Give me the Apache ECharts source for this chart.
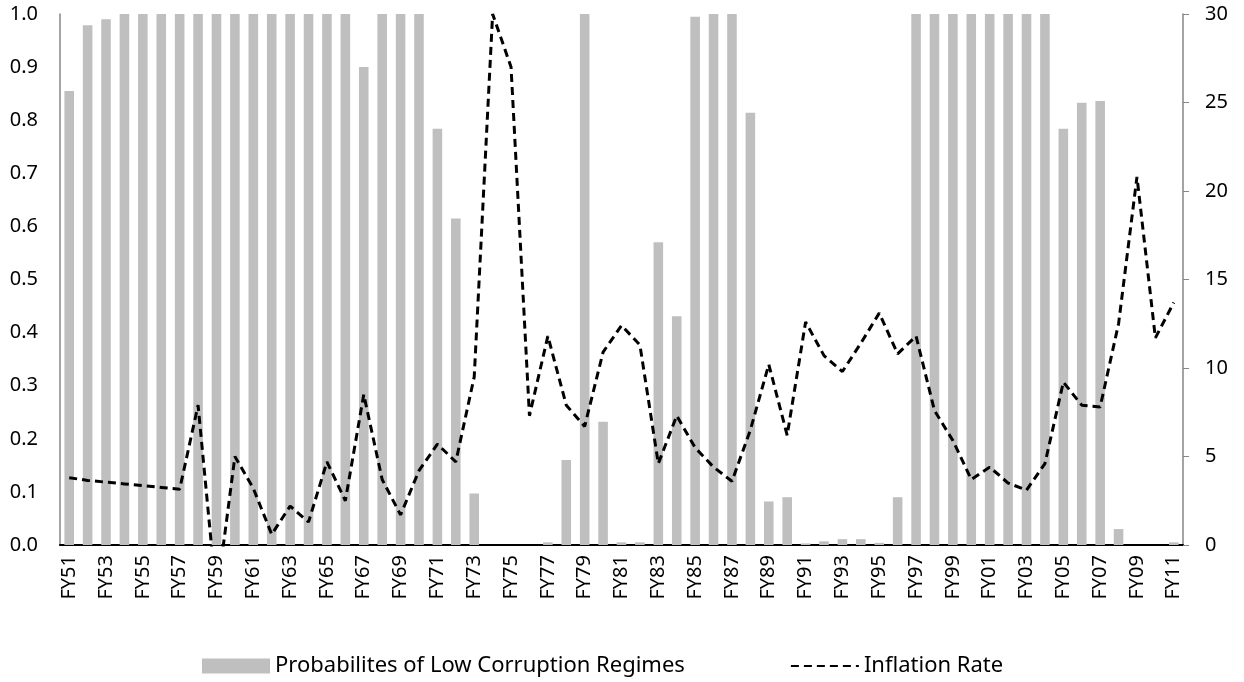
<!DOCTYPE html>
<html>
<head>
<meta charset="utf-8">
<script src="https://cdn.jsdelivr.net/npm/echarts@6/dist/echarts.min.js"></script>
<style>
  html, body { margin: 0; padding: 0; background: #fff; }
  #chart { width: 1244px; height: 682px; }
</style>
</head>
<body>
<div id="chart"></div>
<script>
// fiscal years FY51 .. FY11
var years = ['FY51','FY52','FY53','FY54','FY55','FY56','FY57','FY58','FY59','FY60',
  'FY61','FY62','FY63','FY64','FY65','FY66','FY67','FY68','FY69','FY70',
  'FY71','FY72','FY73','FY74','FY75','FY76','FY77','FY78','FY79','FY80',
  'FY81','FY82','FY83','FY84','FY85','FY86','FY87','FY88','FY89','FY90',
  'FY91','FY92','FY93','FY94','FY95','FY96','FY97','FY98','FY99','FY00',
  'FY01','FY02','FY03','FY04','FY05','FY06','FY07','FY08','FY09','FY10','FY11'];

var lowCorruptionProb = [0.855,0.979,0.990,1,1,1,1,1,1,1,
  1,1,1,1,1,1,0.900,1,1,1,
  0.784,0.615,0.097,0,0,0,0.005,0.160,1,0.232,
  0.005,0.005,0.570,0.431,0.995,1,1,0.814,0.082,0.090,
  0.003,0.007,0.011,0.011,0.004,0.090,1,1,1,1,
  1,1,1,1,0.784,0.833,0.836,0.030,0,0,0.005];

var inflationRate = [3.8,3.65,3.55,3.45,3.35,3.25,3.15,7.9,-3.0,5.0,
  3.2,0.6,2.2,1.3,4.7,2.5,8.5,3.7,1.7,4.2,
  5.7,4.7,9.5,30.0,27.0,7.3,11.8,7.9,6.7,10.9,
  12.4,11.3,4.6,7.3,5.5,4.4,3.6,6.5,10.2,6.2,
  12.6,10.7,9.8,11.4,13.1,10.8,11.8,7.6,5.9,3.7,
  4.4,3.5,3.1,4.6,9.2,7.9,7.8,12.5,20.8,11.7,13.7];

var barName = 'Probabilites of Low Corruption Regimes';
var lineName = 'Inflation Rate';
var fontFam = '"Noto Sans", "Open Sans", sans-serif';

var chart = echarts.init(document.getElementById('chart'));
chart.setOption({
  animation: false,
  textStyle: { fontFamily: fontFam, color: '#000' },
  grid: { left: 60, right: 61, top: 14, bottom: 137, containLabel: false },
  legend: {
    top: 650,
    left: 197,
    itemGap: 105,
    itemWidth: 68,
    itemHeight: 15,
    textStyle: { fontSize: 22, fontFamily: fontFam, color: '#000' },
    data: [
      { name: barName, icon: 'rect' },
      { name: lineName, itemStyle: { opacity: 0 } }
    ]
  },
  xAxis: [{
    type: 'category',
    data: years,
    axisLine: { lineStyle: { color: '#868686', width: 1.5 } },
    axisTick: { show: false },
    axisLabel: { interval: 1, rotate: 90, fontSize: 20, margin: 10, color: '#000' }
  }, {
    type: 'category',
    position: 'top',
    data: years,
    axisLine: { show: true, lineStyle: { color: '#000', width: 2 } },
    axisTick: { show: false },
    axisLabel: { show: false }
  }],
  yAxis: [{
    type: 'value',
    min: 0, max: 1, interval: 0.1,
    splitLine: { show: false },
    axisLine: { show: true, lineStyle: { color: '#868686', width: 1.5 } },
    axisTick: { show: false },
    axisLabel: { fontSize: 20, margin: 22, color: '#000',
      formatter: function (v) { return v.toFixed(1); } }
  }, {
    type: 'value',
    min: 0, max: 30, interval: 5,
    splitLine: { show: false },
    axisLine: { show: true, lineStyle: { color: '#868686', width: 1.5 } },
    axisTick: { show: true, length: 6, lineStyle: { color: '#868686' } },
    axisLabel: { fontSize: 20, margin: 22, color: '#000' }
  }],
  series: [{
    name: barName,
    type: 'bar',
    data: lowCorruptionProb,
    barWidth: '52%',
    itemStyle: { color: '#BFBFBF' }
  }, {
    name: lineName,
    type: 'line',
    yAxisIndex: 1,
    data: inflationRate,
    symbol: 'none',
    clip: true,
    itemStyle: { color: '#000' },
    lineStyle: { color: '#000', width: 3, type: [8, 5] }
  }]
});
</script>
</body>
</html>
